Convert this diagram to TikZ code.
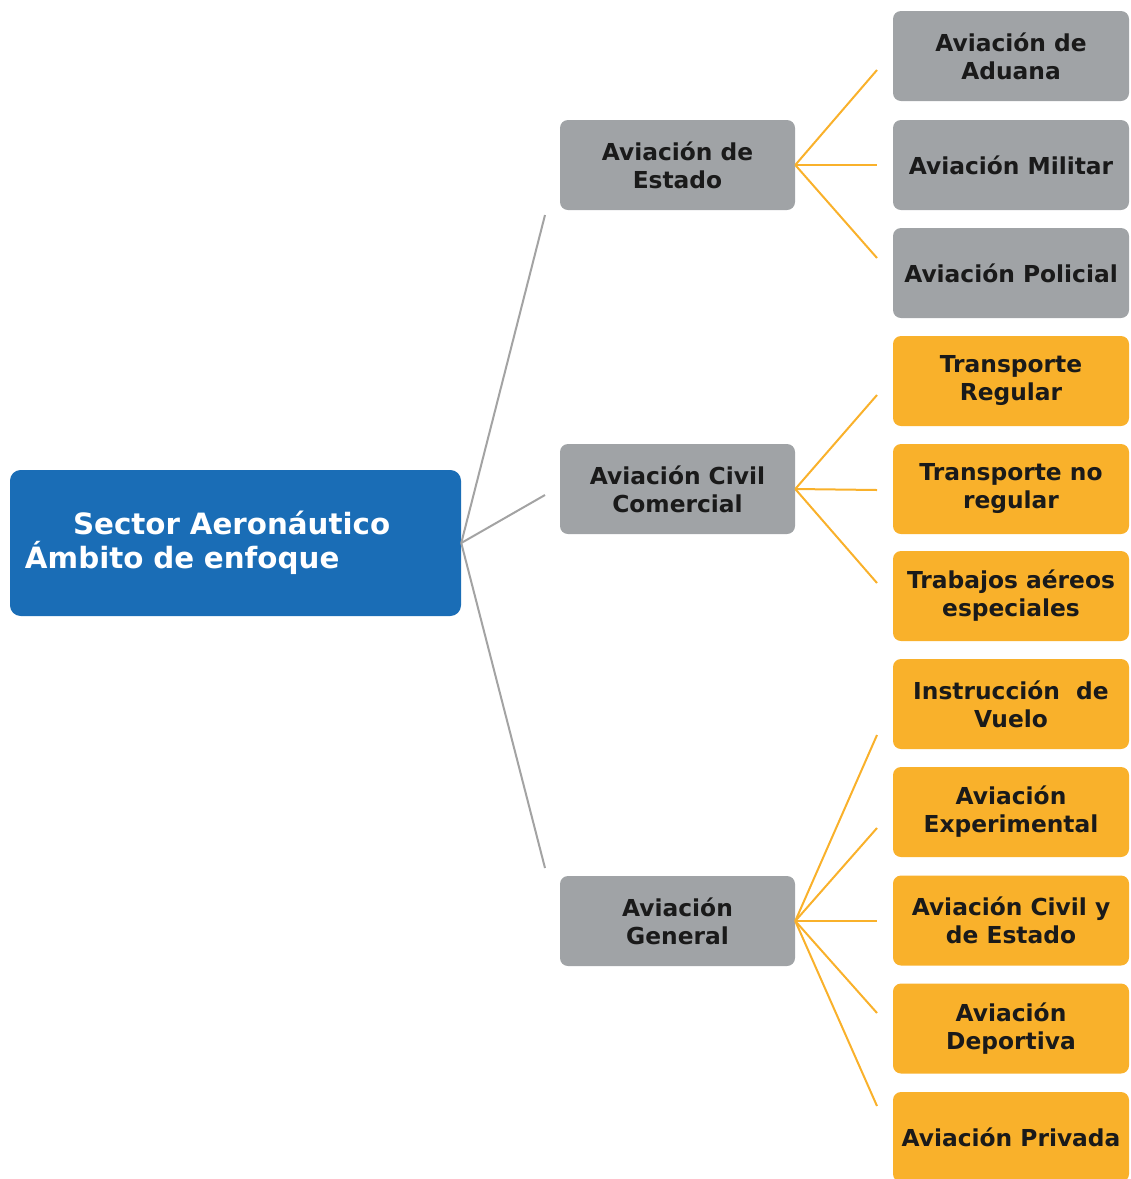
\documentclass[tikz,border=0pt]{standalone}
\usepackage{fontspec}
\setmainfont{DejaVu Sans}
\definecolor{rootblue}{HTML}{1A6DB6}
\definecolor{boxgray}{HTML}{A0A3A6}
\definecolor{boxorange}{HTML}{F9B12B}
\definecolor{linegray}{HTML}{A3A3A3}
\definecolor{lineorange}{HTML}{F9B12B}
\definecolor{txt}{HTML}{1A1A1A}
\begin{document}
\begin{tikzpicture}[x=0.75pt,y=-0.75pt,
  basebox/.style={rounded corners=6pt, inner sep=0pt, align=center, text=txt,
    font=\bfseries\fontsize{17.5}{21}\selectfont},
  midbox/.style={basebox, fill=boxgray, minimum width=176.25pt, minimum height=67.5pt},
  graybox/.style={basebox, fill=boxgray, minimum width=177pt, minimum height=67.5pt},
  orangebox/.style={basebox, fill=boxorange, minimum width=177pt, minimum height=67.5pt},
  rootbox/.style={rounded corners=8pt, fill=rootblue, text=white, minimum width=338.25pt,
    minimum height=109.5pt, inner xsep=11.25pt, inner ysep=0pt, text width=315.75pt, align=left,
    font=\bfseries\fontsize{22}{25.5}\selectfont},
  grayline/.style={draw=linegray, line width=1.5pt},
  orangeline/.style={draw=lineorange, line width=1.5pt}
]
\path[use as bounding box] (0,0) rectangle (1131,1179);
\clip (0,0) rectangle (1131,1179);

% root
\node[rootbox] (root) at (235.5,543) {\hspace*{36pt}Sector Aeronáutico\\Ámbito de enfoque};

% middle
\node[midbox] (estado) at (677.5,165) {Aviación de\\Estado};
\node[midbox] (comercial) at (677.5,489) {Aviación Civil\\Comercial};
\node[midbox] (general) at (677.5,921) {Aviación\\General};

% leaves
\node[graybox] (aduana) at (1011,56) {Aviación de\\Aduana};
\node[graybox] (militar) at (1011,165) {Aviación Militar};
\node[graybox] (policial) at (1011,273) {Aviación Policial};
\node[orangebox] (regular) at (1011,381) {Transporte\\Regular};
\node[orangebox] (noregular) at (1011,489) {Transporte no\\regular};
\node[orangebox] (trabajos) at (1011,596) {Trabajos aéreos\\especiales};
\node[orangebox] (instruccion) at (1011,704) {Instrucción\ \ de\\Vuelo};
\node[orangebox] (experimental) at (1011,812) {Aviación\\Experimental};
\node[orangebox] (civilestado) at (1011,920.5) {Aviación Civil y\\de Estado};
\node[orangebox] (deportiva) at (1011,1028.5) {Aviación\\Deportiva};
\node[orangebox] (privada) at (1011,1137) {Aviación Privada};

% free ends
\coordinate (g1) at (545,215);
\coordinate (g2) at (545,495);
\coordinate (g3) at (545,868);
\coordinate (e1) at (877,70);
\coordinate (e2) at (877,165);
\coordinate (e3) at (877,258);
\coordinate (c1) at (877,395);
\coordinate (c2) at (877,490);
\coordinate (c3) at (877,583);
\coordinate (v1) at (877,735);
\coordinate (v2) at (877,828);
\coordinate (v3) at (877,921);
\coordinate (v4) at (877,1013);
\coordinate (v5) at (877,1106);

% connectors
\draw[grayline] (root.east) -- (g1);
\draw[grayline] (root.east) -- (g2);
\draw[grayline] (root.east) -- (g3);
\foreach \t in {e1,e2,e3} \draw[orangeline] (estado.east) -- (\t);
\foreach \t in {c1,c2,c3} \draw[orangeline] (comercial.east) -- (\t);
\foreach \t in {v1,v2,v3,v4,v5} \draw[orangeline] (general.east) -- (\t);
\end{tikzpicture}
\end{document}
